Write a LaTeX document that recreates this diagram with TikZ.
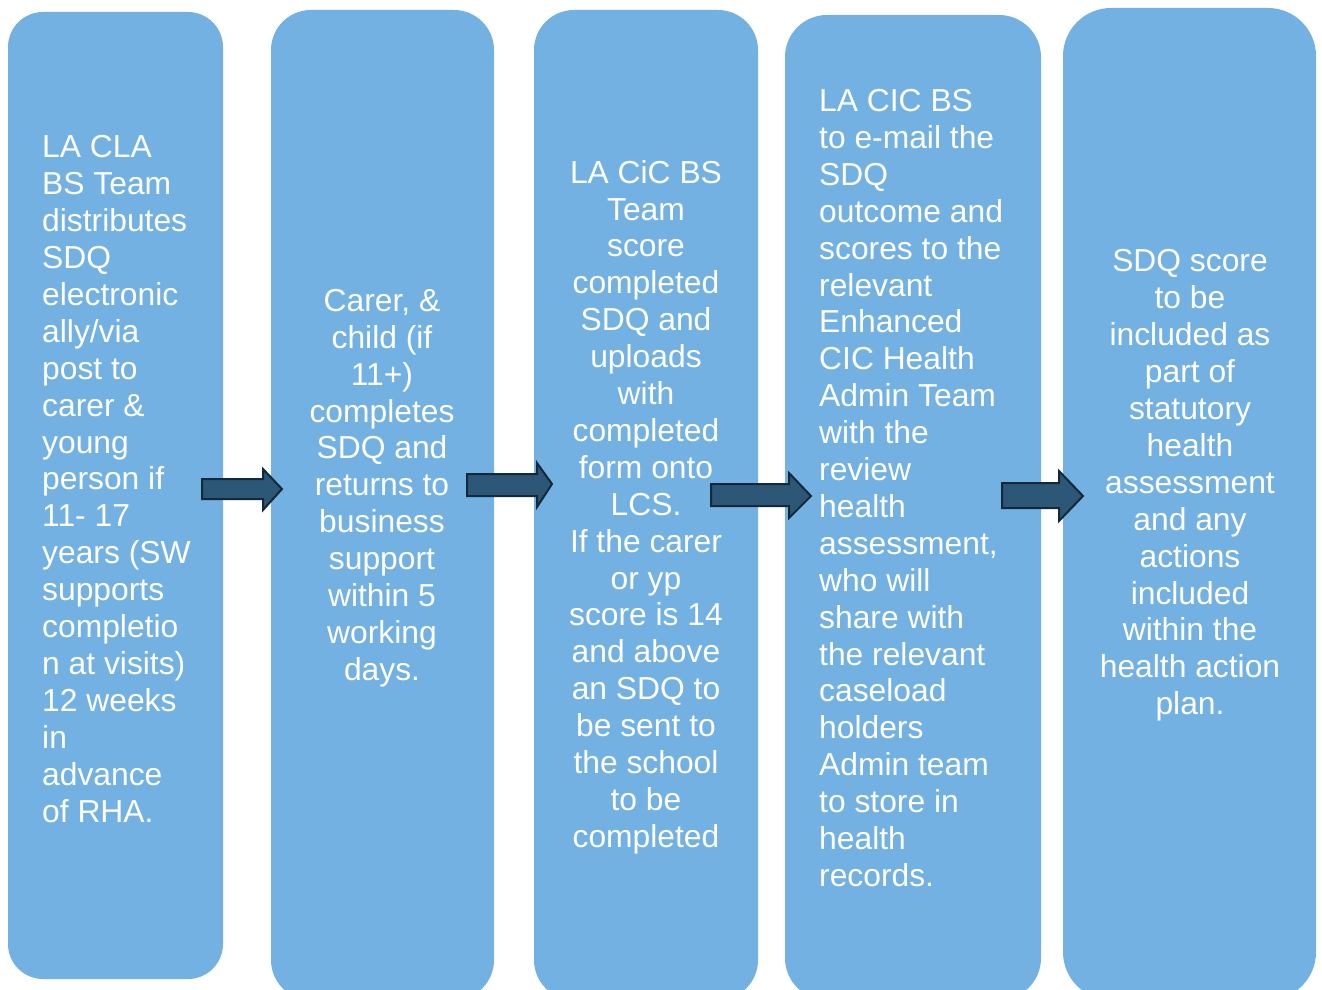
\documentclass[tikz,border=0pt]{standalone}
\usepackage{fontspec}
\setmainfont{Liberation Sans}
\definecolor{boxblue}{HTML}{72B1E1}
\definecolor{arrowfill}{HTML}{2D5777}
\definecolor{arrowline}{HTML}{13283A}
\begin{document}
\begin{tikzpicture}[x=1pt,y=-1pt,
  stage/.style={fill=boxblue,draw=none,inner sep=0pt},
  stagetext/.style={text=white,inner sep=0pt,
    font=\fontsize{31.8}{36.9}\selectfont},
  blockarrow/.style={fill=arrowfill,draw=arrowline,line width=2pt,line join=miter}]
\useasboundingbox (0,0) rectangle (1322,990);
\clip (0,0) rectangle (1322,990);

% the five process stages
\node[stage,rounded corners=35pt,minimum width=215pt,minimum height=967pt] (b1) at (115.5,495.5) {};
\node[stage,rounded corners=40pt,minimum width=223pt,minimum height=990pt] (b2) at (382.5,505) {};
\node[stage,rounded corners=40pt,minimum width=224pt,minimum height=990pt] (b3) at (646,505) {};
\node[stage,rounded corners=42pt,minimum width=256pt,minimum height=985pt] (b4) at (913,507.5) {};
\node[stage,rounded corners=48pt,minimum width=253pt,minimum height=992pt] (b5) at (1189.5,504) {};

% stage texts
\node[stagetext,align=left,anchor=west] (t1) at (42,479) {LA CLA\\BS Team\\distributes\\SDQ\\electronic\\ally/via\\post to\\carer \&\\young\\person if\\11- 17\\years (SW\\supports\\completio\\n at visits)\\12 weeks\\in\\advance\\of RHA.};
\node[stagetext,align=center] (t2) at (382,488) {Carer, \&\\child (if\\11+)\\completes\\SDQ and\\returns to\\business\\support\\within 5\\working\\days.};
\node[stagetext,align=center] (t3) at (646,507) {LA CiC BS\\Team\\score\\completed\\SDQ and\\uploads\\with\\completed\\form onto\\LCS.\\If the carer\\or yp\\score is 14\\and above\\an SDQ to\\be sent to\\the school\\to be\\completed};
\node[stagetext,align=left,anchor=west] (t4) at (819,488) {LA CIC BS\\to e-mail the\\SDQ\\outcome and\\scores to the\\relevant\\Enhanced\\CIC Health\\Admin Team\\with the\\review\\health\\assessment,\\who will\\share with\\the relevant\\caseload\\holders\\Admin team\\to store in\\health\\records.};
\node[stagetext,align=center] (t5) at (1190,485.5) {SDQ score\\to be\\included as\\part of\\statutory\\health\\assessment\\and any\\actions\\included\\within the\\health action\\plan.};

% block arrows between the stages
\draw[blockarrow] (202,479) -- (263,479) -- (263,469) -- (282,489) -- (263,510) -- (263,499) -- (202,499) -- cycle;
\draw[blockarrow] (467,474) -- (537,474) -- (537,463) -- (552,484) -- (537,507) -- (537,496) -- (467,496) -- cycle;
\draw[blockarrow] (711,484) -- (789,484) -- (789,473) -- (811,496) -- (789,518) -- (789,506) -- (711,506) -- cycle;
\draw[blockarrow] (1002,483) -- (1059,483) -- (1059,471) -- (1083,496) -- (1059,521) -- (1059,508) -- (1002,508) -- cycle;
\end{tikzpicture}
\end{document}
